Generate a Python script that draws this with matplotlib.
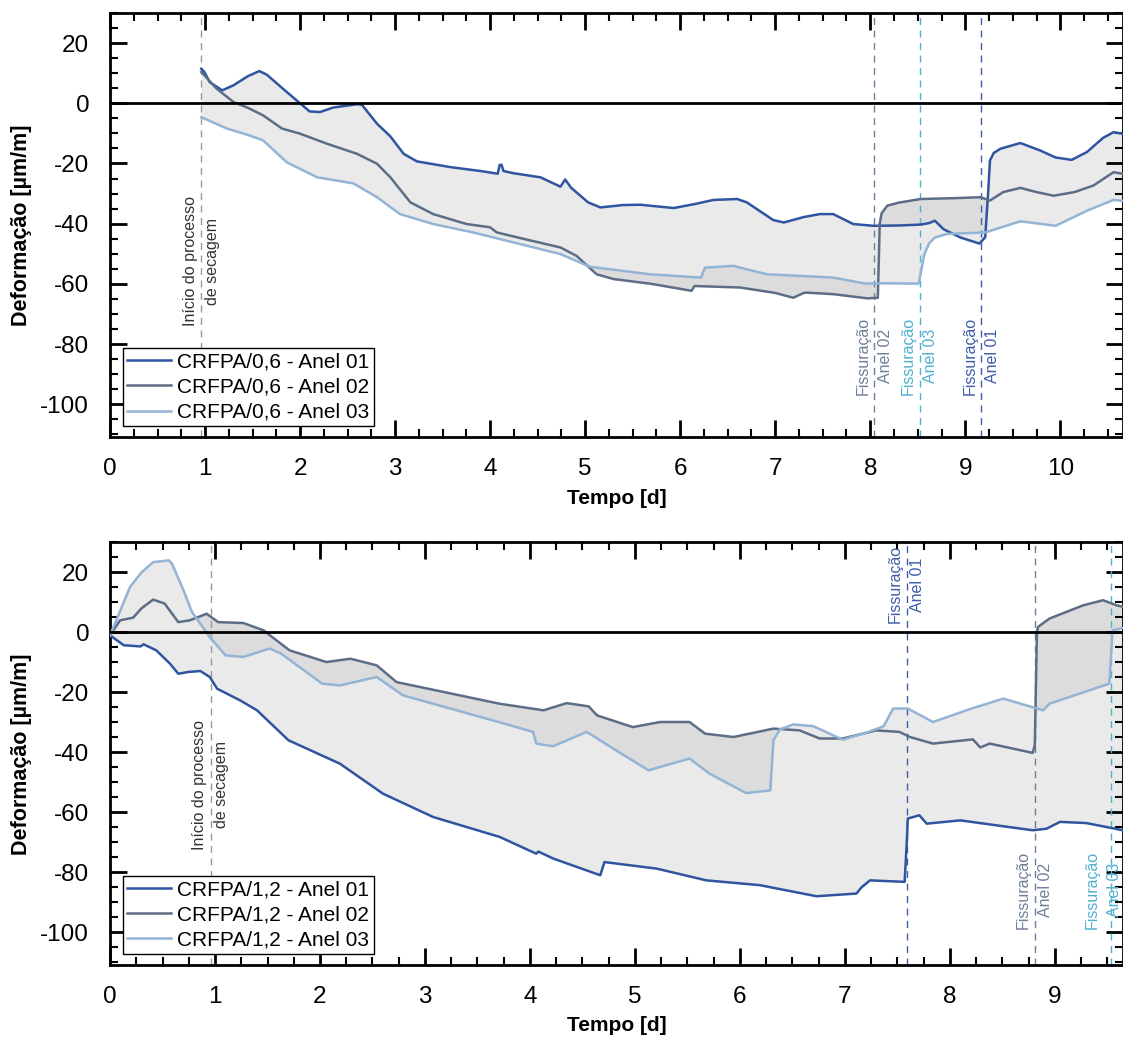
import numpy as np
import matplotlib
matplotlib.use("Agg")
import matplotlib.pyplot as plt

plt.rcParams['font.family'] = ['Liberation Sans', 'DejaVu Sans']
plt.rcParams['axes.unicode_minus'] = False

# ---- top chart: CRFPA/0,6 ----
t1_a01 = [0.96, 0.99, 1.05, 1.18, 1.30, 1.45, 1.57, 1.65, 1.85, 2.10, 2.21, 2.35, 2.60, 2.65,
          2.81, 2.95, 3.09, 3.23, 3.58, 3.90, 4.08, 4.10, 4.12, 4.14, 4.24, 4.53, 4.74, 4.79,
          4.85, 5.03, 5.16, 5.40, 5.58, 5.93, 6.15, 6.35, 6.60, 6.70, 6.98, 7.09, 7.30, 7.47,
          7.61, 7.82, 8.03, 8.30, 8.53, 8.62, 8.68, 8.77, 8.95, 9.15, 9.21, 9.24, 9.26, 9.30,
          9.37, 9.58, 9.79, 9.95, 10.12, 10.28, 10.45, 10.56, 10.65]
v1_a01 = [11.5, 10.5, 7.0, 4.3, 6.0, 9.0, 10.7, 9.5, 4.0, -2.7, -2.9, -1.4, -0.3, -0.5,
          -6.8, -11.0, -16.8, -19.3, -21.2, -22.5, -23.4, -20.5, -20.4, -22.5, -23.2, -24.6, -27.7, -25.3,
          -28.0, -32.9, -34.6, -33.8, -33.7, -34.8, -33.5, -32.1, -31.8, -32.9, -38.8, -39.6, -37.8, -36.8,
          -36.8, -40.1, -40.7, -40.6, -40.3, -39.8, -39.0, -41.8, -44.6, -46.6, -44.5, -30.0, -19.0, -16.5,
          -15.1, -13.2, -15.7, -18.0, -18.8, -16.2, -11.5, -9.6, -10.1]

t1_a02 = [0.96, 1.12, 1.30, 1.45, 1.61, 1.81, 2.00, 2.28, 2.60, 2.81, 2.95, 3.16, 3.40, 3.75,
          4.00, 4.07, 4.32, 4.74, 4.91, 5.12, 5.30, 5.70, 6.12, 6.15, 6.63, 7.00, 7.19, 7.30,
          7.33, 7.61, 7.97, 8.08, 8.10, 8.12, 8.18, 8.30, 8.53, 8.90, 9.16, 9.26, 9.40, 9.58,
          9.75, 9.93, 10.15, 10.35, 10.56, 10.65]
v1_a02 = [10.4, 4.9, 0.4, -1.5, -4.0, -8.4, -10.1, -13.4, -16.8, -20.1, -24.6, -32.9, -36.8, -40.1,
          -41.2, -42.9, -44.8, -47.9, -50.7, -56.8, -58.4, -60.0, -62.3, -60.7, -61.2, -63.0, -64.6, -63.0,
          -62.9, -63.4, -64.8, -64.6, -40.0, -36.5, -34.0, -33.0, -31.8, -31.5, -31.2, -32.3, -29.5, -28.1,
          -29.5, -30.7, -29.5, -27.3, -22.9, -23.4]

t1_a03 = [0.96, 1.23, 1.45, 1.61, 1.86, 2.18, 2.56, 2.81, 3.05, 3.40, 3.82, 4.32, 4.74, 5.05,
          5.68, 6.22, 6.26, 6.56, 6.91, 7.61, 7.95, 8.10, 8.51, 8.54, 8.57, 8.62, 8.68, 8.81,
          9.21, 9.40, 9.58, 9.95, 10.28, 10.56, 10.65]
v1_a03 = [-4.6, -8.4, -10.5, -12.3, -19.6, -24.6, -26.6, -31.2, -36.8, -40.1, -42.9, -46.8, -50.1, -54.3,
          -56.8, -57.9, -54.6, -54.0, -56.8, -57.9, -59.9, -59.8, -59.9, -55.0, -50.1, -46.5, -44.6, -43.4,
          -42.9, -41.0, -39.2, -40.7, -35.7, -32.1, -32.4]

labels1 = ['CRFPA/0,6 - Anel 01', 'CRFPA/0,6 - Anel 02', 'CRFPA/0,6 - Anel 03']
crack1 = [9.17, 8.04, 8.52]  # Anel 01, 02, 03

# ---- bottom chart: CRFPA/1,2 ----
t2_a01 = [0.00, 0.13, 0.29, 0.32, 0.44, 0.57, 0.65, 0.75, 0.86, 0.95, 1.02, 1.24, 1.40, 1.70,
          2.19, 2.60, 3.08, 3.71, 4.06, 4.08, 4.22, 4.67, 4.71, 5.21, 5.68, 6.19, 6.73, 7.11,
          7.16, 7.24, 7.57, 7.59, 7.60, 7.71, 7.78, 8.10, 8.79, 8.92, 9.05, 9.30, 9.65]
v2_a01 = [-1.0, -4.3, -4.7, -4.0, -6.0, -10.4, -13.8, -13.2, -12.9, -14.9, -18.8, -22.7, -26.0, -36.0,
          -43.8, -53.8, -61.6, -68.2, -73.8, -73.1, -75.4, -81.0, -76.6, -78.8, -82.7, -84.3, -88.0, -87.1,
          -85.0, -82.7, -83.2, -70.0, -62.1, -61.0, -63.8, -62.7, -66.0, -65.5, -63.2, -63.6, -66.0]

t2_a02 = [0.00, 0.095, 0.22, 0.30, 0.41, 0.52, 0.65, 0.76, 0.92, 1.03, 1.27, 1.46, 1.71, 2.06,
          2.29, 2.54, 2.73, 3.71, 4.13, 4.35, 4.56, 4.64, 4.98, 5.24, 5.52, 5.67, 5.94, 6.32,
          6.57, 6.76, 6.98, 7.30, 7.52, 7.62, 7.84, 8.22, 8.29, 8.38, 8.79, 8.81, 8.83, 8.84,
          8.95, 9.27, 9.46, 9.59, 9.65]
v2_a02 = [-1.0, 4.0, 4.9, 8.0, 10.9, 9.6, 3.4, 4.0, 6.2, 3.4, 3.1, 0.7, -6.0, -9.9,
          -8.8, -11.0, -16.6, -23.8, -26.0, -23.6, -24.7, -27.7, -31.6, -29.9, -29.9, -33.8, -34.9, -32.1,
          -32.7, -35.4, -35.4, -32.7, -33.2, -34.9, -37.1, -35.7, -38.4, -37.1, -40.2, -37.5, 0.0, 1.8,
          4.6, 9.0, 10.7, 9.0, 8.5]

t2_a03 = [0.00, 0.19, 0.30, 0.41, 0.56, 0.59, 0.70, 0.78, 0.95, 1.10, 1.27, 1.52, 1.63, 2.02,
          2.19, 2.54, 2.79, 3.71, 4.03, 4.06, 4.22, 4.54, 4.85, 5.13, 5.52, 5.71, 6.06, 6.29,
          6.32, 6.38, 6.51, 6.70, 6.98, 7.20, 7.37, 7.46, 7.60, 7.84, 8.20, 8.51, 8.83, 8.89,
          8.95, 9.52, 9.55, 9.62, 9.65]
v2_a03 = [-1.0, 15.1, 20.0, 23.4, 24.0, 22.9, 14.0, 6.8, -1.6, -7.7, -8.2, -5.4, -7.1, -17.1,
          -17.7, -14.9, -21.0, -30.0, -33.2, -37.1, -38.0, -33.2, -40.0, -46.0, -42.1, -47.1, -53.6, -52.7,
          -36.0, -32.4, -30.7, -31.3, -35.8, -33.5, -31.3, -25.4, -25.4, -29.9, -25.5, -22.1, -25.4, -26.0,
          -23.8, -17.1, 0.7, 1.2, 1.5]

labels2 = ['CRFPA/1,2 - Anel 01', 'CRFPA/1,2 - Anel 02', 'CRFPA/1,2 - Anel 03']
crack2 = [7.59, 8.81, 9.54]
start_dry = 0.96

line_colors = ['#2f54a0', '#5c6e86', '#93b4d4']
text_colors = ['#3f5ea8', '#6f7f99', '#4fb0d0']


def band(ax, ta, va, tb, vb):
    grid = np.union1d(ta, tb)
    ax.fill_between(grid, np.interp(grid, ta, va), np.interp(grid, tb, vb),
                    color='#c4c4c4', alpha=0.35, lw=0, zorder=1)


def draw(ax, series, labels, cracks, xmax, start_y, crack_pos):
    (ta1, va1), (ta2, va2), (ta3, va3) = series
    band(ax, ta1, va1, ta2, va2)
    band(ax, ta2, va2, ta3, va3)
    for (t, v), c, lab in zip(series, line_colors, labels):
        ax.plot(t, v, color=c, lw=1.8, label=lab, zorder=3)
    ax.axhline(0, color='black', lw=2, zorder=4)

    ax.axvline(start_dry, color='#999999', lw=1, ls=(0, (5, 4)), zorder=2)
    ax.text(start_dry, start_y, 'Início do processo\nde secagem', rotation=90,
            ha='center', va='bottom', multialignment='center', linespacing=1.6,
            fontsize=11.5, color='#333333')
    for i, x in enumerate(cracks):
        ax.axvline(x, color=text_colors[i], lw=1, ls=(0, (5, 4)), zorder=2)
        y, va, dx = crack_pos[i]
        ax.text(x + dx, y, 'Fissuração\nAnel 0%d' % (i + 1), rotation=90, ha='center', va=va,
                multialignment='center', linespacing=1.6, fontsize=11.5, color=text_colors[i])

    ax.set_xlim(0, xmax)
    ax.set_ylim(-111, 30)
    ax.set_xticks(np.arange(0, int(xmax) + 1))
    ax.set_yticks(np.arange(-100, 21, 20))
    ax.xaxis.set_minor_locator(matplotlib.ticker.MultipleLocator(0.25))
    ax.yaxis.set_minor_locator(matplotlib.ticker.MultipleLocator(5))
    ax.tick_params(which='both', direction='in', top=True, right=True, labelsize=17.5)
    ax.tick_params(which='major', length=12, width=2, pad=15)
    ax.tick_params(which='minor', length=6, width=1.5)
    for s in ax.spines.values():
        s.set_linewidth(2)
    ax.set_xlabel('Tempo [d]', fontsize=15, fontweight='bold', labelpad=6)
    ax.set_ylabel('Deformação [µm/m]', fontsize=15.5, fontweight='bold', labelpad=6)
    leg = ax.legend(loc='lower left', bbox_to_anchor=(0.013, 0.027), borderaxespad=0,
                    fontsize=15, fancybox=False, edgecolor='black', framealpha=1,
                    handlelength=2.1, handletextpad=0.3, labelspacing=0.3, borderpad=0.2)
    leg.get_frame().set_linewidth(1)


fig = plt.figure(figsize=(11.23, 10.39), dpi=100)
ax1 = fig.add_axes([0.098, 0.579, 0.902, 0.4085])
ax2 = fig.add_axes([0.098, 0.071, 0.902, 0.407])

draw(ax1, [(t1_a01, v1_a01), (t1_a02, v1_a02), (t1_a03, v1_a03)], labels1, crack1, 10.66,
     -74, [(-97, 'bottom', 0), (-97, 'bottom', 0), (-97, 'bottom', 0)])
draw(ax2, [(t2_a01, v2_a01), (t2_a02, v2_a02), (t2_a03, v2_a03)], labels2, crack2, 9.65,
     -72.5, [(29, 'top', 0), (-99, 'bottom', 0), (-99, 'bottom', -0.08)])

fig.savefig('out.png', dpi=100)
